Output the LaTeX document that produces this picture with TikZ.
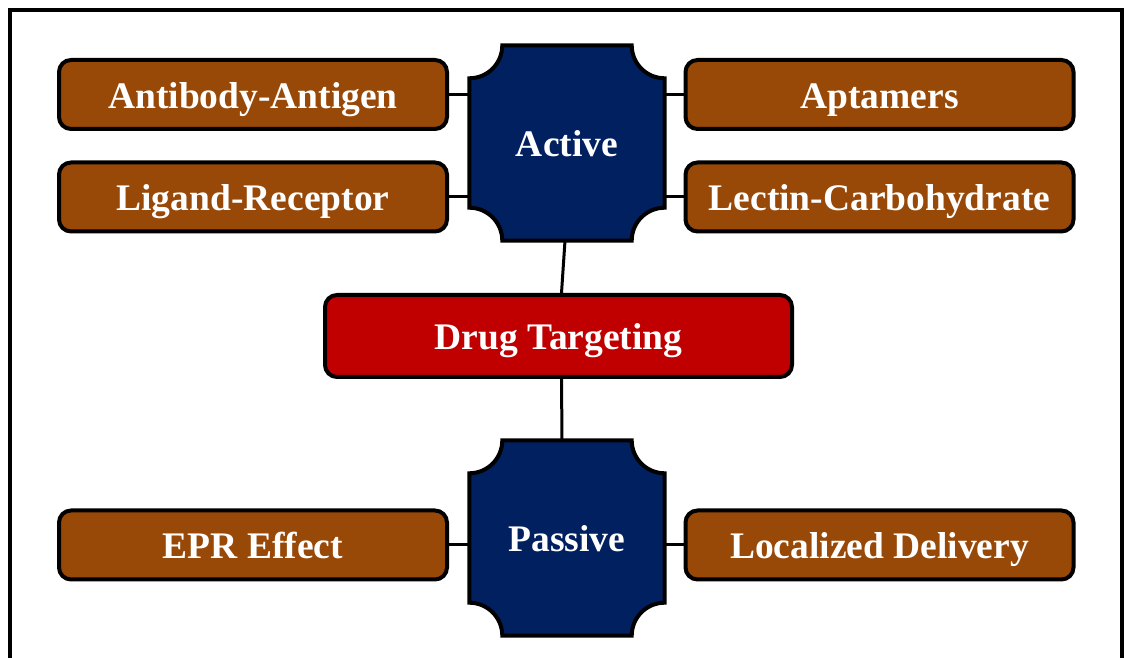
\documentclass[tikz,border=0pt]{standalone}
\usepackage{fontspec}
\setmainfont{Liberation Serif}
\usetikzlibrary{backgrounds}

\definecolor{boxbrown}{HTML}{984807}
\definecolor{plaqueblue}{HTML}{002060}
\definecolor{targetred}{HTML}{C00000}

\tikzset{
  label text/.style = {text = white, font = \fontsize{37.5}{44}\selectfont\bfseries,
                       text height = 28pt, text depth = 0pt},
  method/.style = {label text, draw, line width = 4pt, fill = boxbrown, rounded corners = 12pt,
                   minimum width = 388pt, minimum height = 69pt, inner sep = 0pt},
  target/.style = {label text, draw, line width = 4pt, fill = targetred, rounded corners = 12pt,
                   minimum width = 467pt, minimum height = 82pt, inner sep = 0pt},
  plaque/.style = {label text, minimum width = 195pt, minimum height = 195pt, inner sep = 0pt},
  plaqueline/.style = {draw, line width = 4pt, fill = plaqueblue},
  link/.style = {line width = 3pt}
}

% concave corner box drawn round a named node
\newcommand{\plaqueshape}[1]{%
  \filldraw[plaqueline] ([xshift=33pt]#1.north west) -- ([xshift=-33pt]#1.north east)
    arc[start angle=180, end angle=270, radius=33pt] -- ([yshift=33pt]#1.south east)
    arc[start angle=90, end angle=180, radius=33pt] -- ([xshift=33pt]#1.south west)
    arc[start angle=0, end angle=90, radius=33pt] -- ([yshift=-33pt]#1.north west)
    arc[start angle=270, end angle=360, radius=33pt] -- cycle;}

\begin{document}
\begin{tikzpicture}[x = 1pt, y = 1pt]
\useasboundingbox (0, 0) rectangle (1125, 658);
\draw[line width = 3.5pt] (10, -20) rectangle (1122, 648);

\node[plaque] (active) at (567, 515) {Active};
\node[plaque] (passive) at (567, 120) {Passive};
\node[target] (drug) at (558.5, 322) {Drug Targeting};

\node[method] (antibody) at (253, 563.5) {Antibody-Antigen};
\node[method] (ligand) at (253, 461) {Ligand-Receptor};
\node[method] (aptamers) at (879.5, 563.5) {Aptamers};
\node[method] (lectin) at (879.5, 461) {Lectin-Carbohydrate};
\node[method] (epr) at (253, 113) {EPR Effect};
\node[method] (localized) at (879.5, 113) {Localized Delivery};

\begin{scope}[on background layer]
\plaqueshape{active}
\plaqueshape{passive}
\end{scope}

\draw[link] (antibody.east) -- (antibody.east -| active.west);
\draw[link] (ligand.east) -- (ligand.east -| active.west);
\draw[link] (aptamers.west) -- (aptamers.west -| active.east);
\draw[link] (lectin.west) -- (lectin.west -| active.east);
\draw[link] (epr.east) -- (epr.east -| passive.west);
\draw[link] (localized.west) -- (localized.west -| passive.east);
\draw[link] ([xshift=-2pt]active.south) -- ([xshift=3pt]drug.north);
\draw[link] ([xshift=3pt]drug.south) -- ([xshift=-5pt]passive.north);
\end{tikzpicture}
\end{document}
